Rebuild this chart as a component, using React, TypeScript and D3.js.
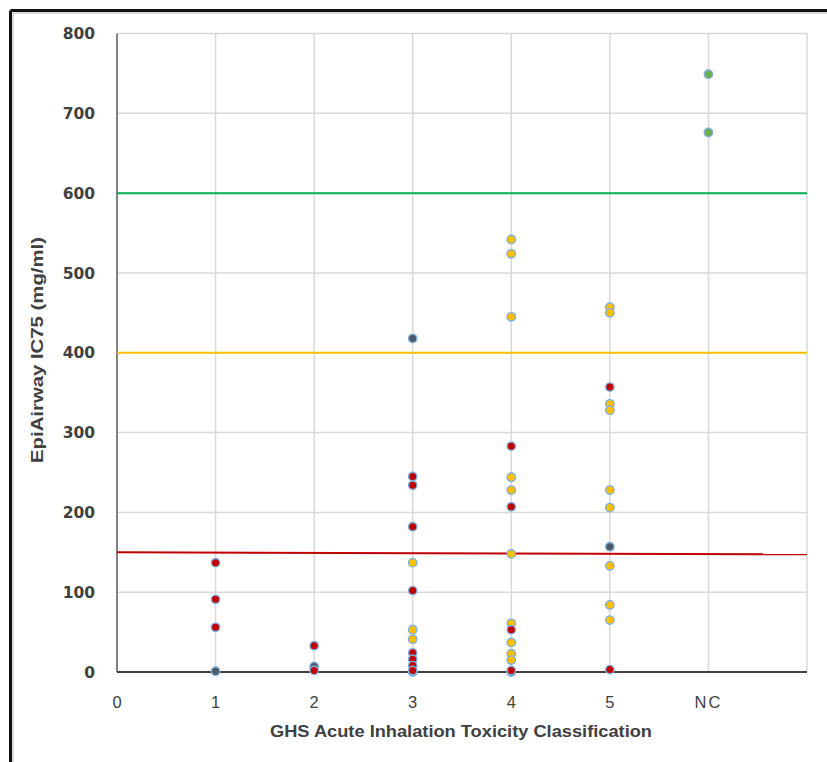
import React from "react";
import * as d3 from "d3";

const xTickLabels = ["0", "1", "2", "3", "4", "5", "NC"];
const yTicks = [0, 100, 200, 300, 400, 500, 600, 700, 800];

// [classIndex, value]
const redPoints: [number, number][] = [
  [1, 137], [1, 91], [1, 56],
  [2, 33], [2, 2],
  [3, 245], [3, 234], [3, 182], [3, 102], [3, 24], [3, 16], [3, 8], [3, 2],
  [4, 283], [4, 207], [4, 53], [4, 2],
  [5, 357], [5, 3],
];
const yellowPoints: [number, number][] = [
  [3, 137], [3, 53], [3, 41],
  [4, 542], [4, 524], [4, 445], [4, 244], [4, 228], [4, 148], [4, 61], [4, 37], [4, 23], [4, 15],
  [5, 457], [5, 450], [5, 336], [5, 328], [5, 228], [5, 206], [5, 133], [5, 84], [5, 65],
];
const grayPoints: [number, number][] = [
  [1, 1], [2, 7], [3, 418], [5, 157],
];
const bluePoints: [number, number][] = [
  [3, 0], [4, 0],
];
const greenPoints: [number, number][] = [
  [6, 749], [6, 676],
];
// threshold lines [startValue, endValue]
const greenLine: [number, number] = [600, 600];
const goldLine: [number, number] = [400, 400];
const redLine: [number, number] = [150, 147.5];

export default function App() {
  const W = 827, H = 762;
  const x = d3.scaleLinear().domain([0, 7]).range([117, 807]);
  const y = d3.scaleLinear().domain([0, 800]).range([672, 33.5]);
  const xGrid = d3.range(1, 8);
  const font = "'DejaVu Sans', sans-serif";

  const dots = (pts: [number, number][], fill: string, key: string) =>
    pts.map((p, i) => (
      <circle key={key + i} cx={x(p[0])} cy={y(p[1])} r={4.2} fill={fill} stroke="#7fb0de" strokeWidth={1.4} />
    ));

  return (
    <svg width={W} height={H} style={{ position: "absolute", left: 0, top: 0, background: "#fff" }}>
      <rect x={0} y={0} width={W} height={H} fill="#fff" />
      {/* frame */}
      <line x1={10.5} y1={10.5} x2={W} y2={10.5} stroke="#111" strokeWidth={3} />
      <line x1={10.5} y1={10.5} x2={10.5} y2={H} stroke="#111" strokeWidth={3} />
      <line x1={13} y1={13} x2={W} y2={13} stroke="#d8d8d8" strokeWidth={2} />
      <line x1={13} y1={13} x2={13} y2={H} stroke="#d8d8d8" strokeWidth={2} />

      {/* gridlines */}
      {yTicks.filter((t) => t > 0).map((t) => (
        <line key={"hg" + t} x1={x(0)} x2={x(7)} y1={y(t)} y2={y(t)} stroke="#d9d9d9" strokeWidth={1.5} />
      ))}
      {xGrid.map((t) => (
        <line key={"vg" + t} x1={x(t)} x2={x(t)} y1={y(800)} y2={y(0)} stroke="#d9d9d9" strokeWidth={1.5} />
      ))}

      {/* axes */}
      <line x1={x(0)} x2={x(0)} y1={y(800)} y2={y(0)} stroke="#595959" strokeWidth={1.5} />
      <line x1={x(0)} x2={x(7)} y1={y(0)} y2={y(0)} stroke="#404040" strokeWidth={2} />

      {/* threshold lines */}
      <line x1={x(0)} x2={x(7)} y1={y(greenLine[0])} y2={y(greenLine[1])} stroke="#00b050" strokeWidth={2} />
      <line x1={x(0)} x2={x(7)} y1={y(goldLine[0])} y2={y(goldLine[1])} stroke="#ffc000" strokeWidth={2} />
      <line x1={x(0)} x2={x(7)} y1={y(redLine[0])} y2={y(redLine[1])} stroke="#c00000" strokeWidth={2} />

      {/* points */}
      {dots(bluePoints, "#5b9bd5", "b")}
      {dots(yellowPoints, "#ffc000", "y")}
      {dots(grayPoints, "#4e5a68", "g")}
      {dots(redPoints, "#c00000", "r")}
      {dots(greenPoints, "#70ad47", "gr")}

      {/* y tick labels */}
      {yTicks.map((t) => (
        <text key={"yl" + t} x={95} y={y(t)} dy="0.36em" textAnchor="end" fontFamily={font} fontWeight="bold" fontSize={15.5} fill="#404040">
          {t}
        </text>
      ))}
      {/* x tick labels */}
      {xTickLabels.map((l, i) => (
        <text key={"xl" + i} x={x(i)} y={708} textAnchor="middle" fontFamily="'Liberation Sans', sans-serif" fontSize={16.5} fill="#404040" letterSpacing={l === "NC" ? 2 : 0}>
          {l}
        </text>
      ))}

      {/* axis titles */}
      <text x={461} y={737} textAnchor="middle" fontFamily="'Liberation Sans', sans-serif" fontWeight="bold" fontSize={16} fill="#404040" textLength={382} lengthAdjust="spacingAndGlyphs">
        GHS Acute Inhalation Toxicity Classification
      </text>
      <text transform={`translate(43, 350) rotate(-90)`} textAnchor="middle" fontFamily="'Liberation Sans', sans-serif" fontWeight="bold" fontSize={16} fill="#404040" textLength={226} lengthAdjust="spacingAndGlyphs">
        EpiAirway IC75 (mg/ml)
      </text>
    </svg>
  );
}
